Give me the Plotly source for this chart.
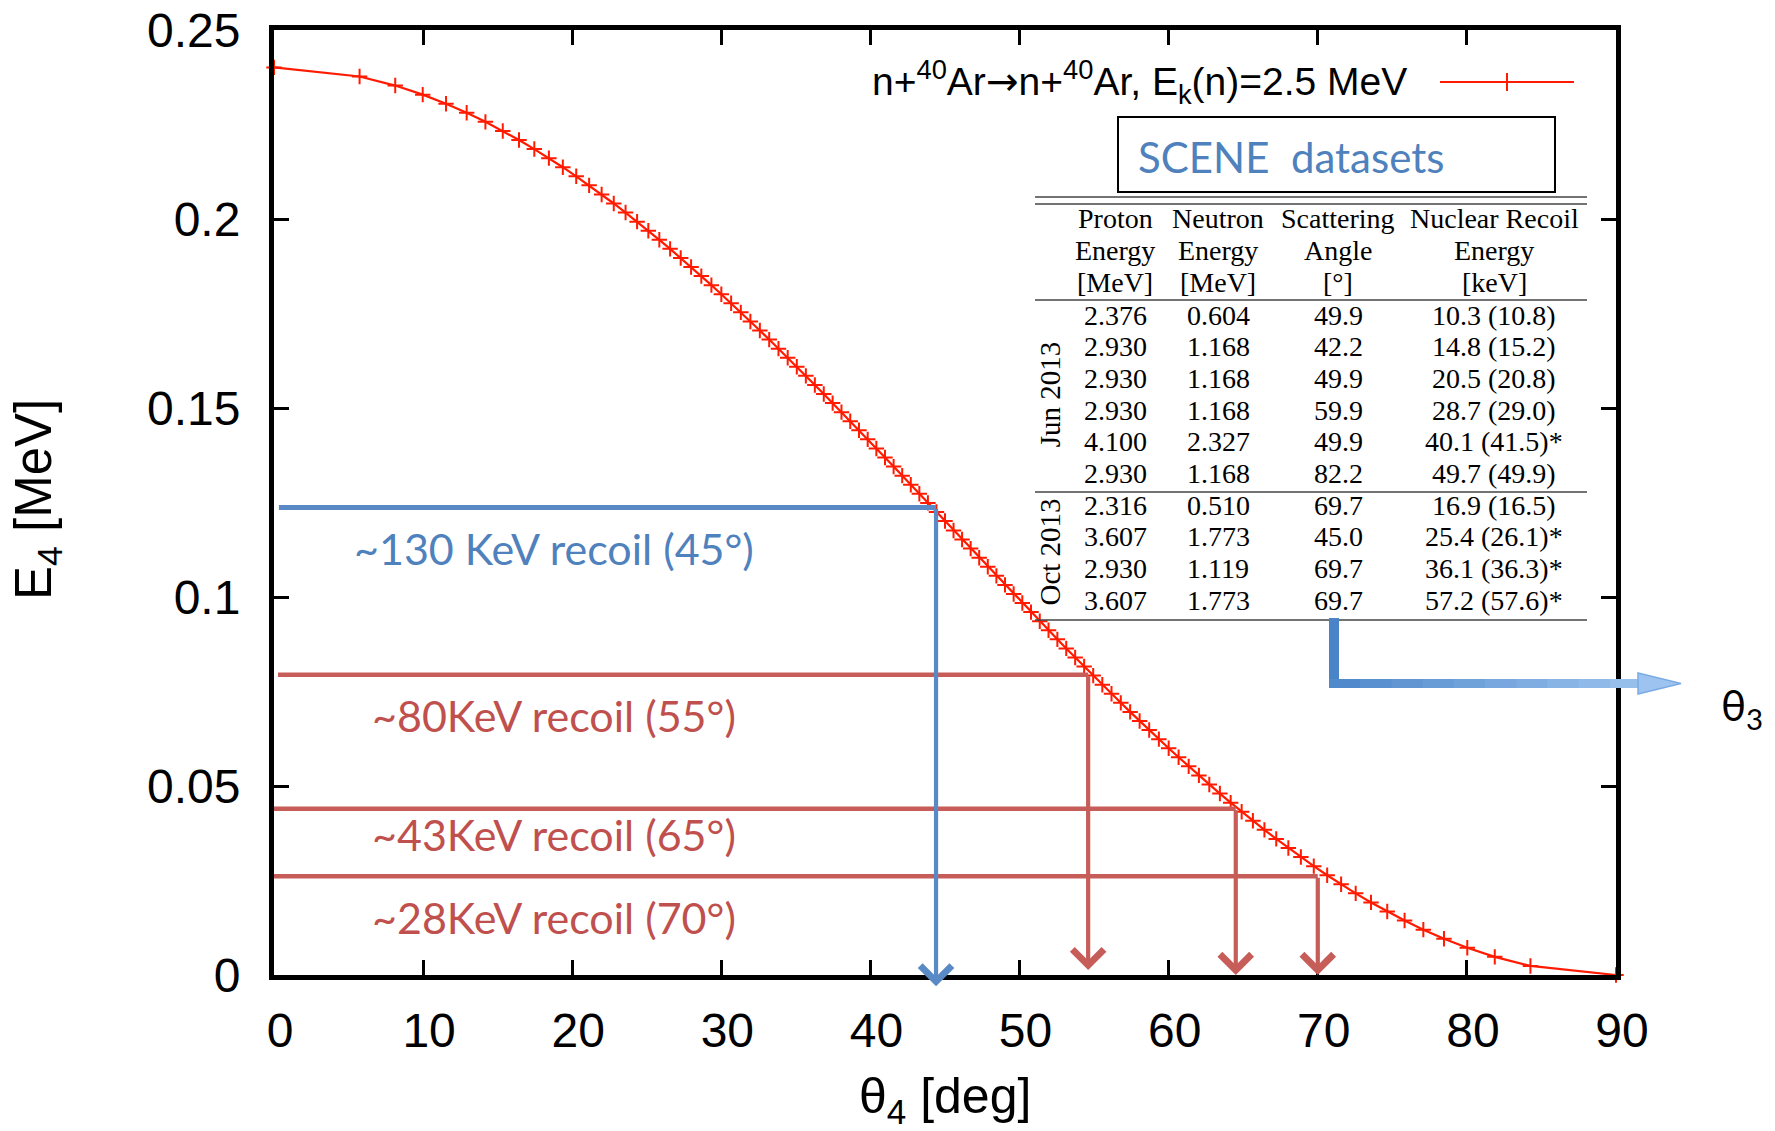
import plotly.graph_objects as go

# ---------------- data ----------------
# recoil angle theta4 [deg] and recoil energy E4 [MeV] (curve points)
theta4 = [0.000, 5.739, 8.130, 9.974, 11.537, 12.921, 14.179, 15.342, 16.430, 17.458,
          18.435, 19.370, 20.268, 21.134, 21.973, 22.786, 23.578, 24.350, 25.104, 25.842,
          26.565, 27.275, 27.972, 28.658, 29.334, 30.000, 30.657, 31.306, 31.948, 32.583,
          33.211, 33.833, 34.450, 35.062, 35.669, 36.271, 36.870, 37.465, 38.057, 38.645,
          39.232, 39.815, 40.397, 40.976, 41.554, 42.130, 42.706, 43.280, 43.854, 44.427,
          45.000, 45.573, 46.146, 46.720, 47.294, 47.870, 48.446, 49.024, 49.603, 50.185,
          50.768, 51.355, 51.943, 52.535, 53.130, 53.729, 54.331, 54.938, 55.550, 56.167,
          56.789, 57.417, 58.052, 58.694, 59.343, 60.000, 60.666, 61.342, 62.028, 62.725,
          63.435, 64.158, 64.896, 65.650, 66.422, 67.214, 68.027, 68.866, 69.732, 70.630,
          71.565, 72.542, 73.570, 74.658, 75.821, 77.079, 78.463, 80.026, 81.870, 84.261,
          90.000]
e4 = [0.2401, 0.2377, 0.2353, 0.2329, 0.2305, 0.2281, 0.2257, 0.2233, 0.2209, 0.2185,
      0.2161, 0.2137, 0.2113, 0.2089, 0.2065, 0.2041, 0.2017, 0.1993, 0.1969, 0.1945,
      0.1921, 0.1897, 0.1873, 0.1849, 0.1825, 0.1801, 0.1777, 0.1753, 0.1729, 0.1705,
      0.1681, 0.1657, 0.1633, 0.1609, 0.1585, 0.1561, 0.1537, 0.1513, 0.1489, 0.1465,
      0.1441, 0.1417, 0.1393, 0.1369, 0.1345, 0.1321, 0.1297, 0.1273, 0.1249, 0.1225,
      0.1201, 0.1176, 0.1152, 0.1128, 0.1104, 0.1080, 0.1056, 0.1032, 0.1008, 0.0984,
      0.0960, 0.0936, 0.0912, 0.0888, 0.0864, 0.0840, 0.0816, 0.0792, 0.0768, 0.0744,
      0.0720, 0.0696, 0.0672, 0.0648, 0.0624, 0.0600, 0.0576, 0.0552, 0.0528, 0.0504,
      0.0480, 0.0456, 0.0432, 0.0408, 0.0384, 0.0360, 0.0336, 0.0312, 0.0288, 0.0264,
      0.0240, 0.0216, 0.0192, 0.0168, 0.0144, 0.0120, 0.0096, 0.0072, 0.0048, 0.0024,
      0.0000]
curve_name = ("n+<sup>40</sup>Ar<span style=\"font-family:DejaVu Sans\">\u2192</span>"
              "n+<sup>40</sup>Ar, E<sub>k</sub>(n)=2.5 MeV")

# recoil guides (angle, energy) and their labels
guide_labels = ["~130 KeV recoil (45\u00b0)", "~80KeV recoil (55\u00b0)",
                "~43KeV recoil (65\u00b0)", "~28KeV recoil (70\u00b0)"]
guide_theta = [44.4, 54.6, 64.5, 70.0]
guide_energy = [0.1237, 0.0794, 0.0440, 0.0261]

# SCENE table
header_cols = [["Proton", "Energy", "[MeV]"],
               ["Neutron", "Energy", "[MeV]"],
               ["Scattering", "Angle", "[\u00b0]"],
               ["Nuclear Recoil", "Energy", "[keV]"]]
proton_energy = ["2.376", "2.930", "2.930", "2.930", "4.100", "2.930",
                 "2.316", "3.607", "2.930", "3.607"]
neutron_energy = ["0.604", "1.168", "1.168", "1.168", "2.327", "1.168",
                  "0.510", "1.773", "1.119", "1.773"]
scattering_angle = ["49.9", "42.2", "49.9", "59.9", "49.9", "82.2",
                    "69.7", "45.0", "69.7", "69.7"]
recoil_energy = ["10.3 (10.8)", "14.8 (15.2)", "20.5 (20.8)", "28.7 (29.0)",
                 "40.1 (41.5)*", "49.7 (49.9)",
                 "16.9 (16.5)", "25.4 (26.1)*", "36.1 (36.3)*", "57.2 (57.6)*"]
run_groups = ["Jun 2013", "Oct 2013"]
run_sizes = [6, 4]

# ---------------- layout helpers ----------------
W, H = 1775, 1131
PL, PR, PT, PB = 274, 1616, 30, 975      # plot area in pixels


def px(xf):
    return (xf - PL) / (PR - PL)


def py(yf):
    return (PB - yf) / (PB - PT)


BLUE_LINE = "#5A8AC6"
RED_LINE = "#C65D58"
BLUE_TXT = "#4F81BD"
RED_TXT = "#C0504D"
SERIF = "Liberation Serif"
SANS = "Liberation Sans"
CAL = "Lato"

fig = go.Figure()
fig.add_trace(go.Scatter(
    x=theta4, y=e4, mode="lines+markers", name=curve_name,
    line=dict(color="#ff1a00", width=2.2),
    marker=dict(symbol="cross-thin", size=11, line=dict(color="#ff1a00", width=2)),
    cliponaxis=False, showlegend=False))

shapes = []
annotations = []

# recoil guides: horizontal line + downward arrow + label
guide_colors = [BLUE_LINE, RED_LINE, RED_LINE, RED_LINE]
text_colors = [BLUE_TXT, RED_TXT, RED_TXT, RED_TXT]
line_start = [0.33, 0.27, -0.27, -0.27]
tip_y = [-0.0030, 0.0013, 0.0, 0.0]
label_ypx = [548, 715, 834, 917]
for i in range(4):
    shapes.append(dict(type="line", xref="x", yref="y", layer="above",
                       x0=line_start[i], x1=guide_theta[i],
                       y0=guide_energy[i], y1=guide_energy[i],
                       line=dict(color=guide_colors[i], width=5 if i == 0 else 4.5)))
    annotations.append(dict(xref="x", yref="y", axref="x", ayref="y",
                            x=guide_theta[i], y=tip_y[i],
                            ax=guide_theta[i], ay=guide_energy[i],
                            text="", showarrow=True, arrowhead=4, arrowsize=1.45,
                            arrowwidth=4.2, arrowcolor=guide_colors[i], standoff=0))
    annotations.append(dict(xref="paper", yref="paper", x=px(554), y=py(label_ypx[i]),
                            xanchor="center", yanchor="middle", showarrow=False,
                            text=guide_labels[i],
                            font=dict(family=CAL, size=43, color=text_colors[i])))

# legend (gnuplot style: text then sample)
annotations.append(dict(xref="paper", yref="paper", x=px(1409), y=py(82),
                        xanchor="right", yanchor="middle", showarrow=False,
                        text=curve_name, font=dict(family=SANS, size=39, color="black")))
shapes.append(dict(type="line", xref="paper", yref="paper", layer="above",
                   x0=px(1440), x1=px(1574), y0=py(82), y1=py(82),
                   line=dict(color="#ff1a00", width=2)))
shapes.append(dict(type="line", xref="paper", yref="paper", layer="above",
                   x0=px(1507), x1=px(1507), y0=py(73), y1=py(91),
                   line=dict(color="#ff1a00", width=2)))

# SCENE datasets box
shapes.append(dict(type="rect", xref="paper", yref="paper", layer="above",
                   x0=px(1118), x1=px(1555), y0=py(192), y1=py(117),
                   line=dict(color="black", width=2), fillcolor="white"))
annotations.append(dict(xref="paper", yref="paper", x=px(1136), y=py(157),
                        xanchor="left", yanchor="middle", showarrow=False,
                        text="SCENE\u00a0\u00a0datasets",
                        font=dict(family=CAL, size=42, color=BLUE_TXT)))

# table rules
for yy in [197, 204, 300, 492, 620]:
    shapes.append(dict(type="line", xref="paper", yref="paper", layer="above",
                       x0=px(1035), x1=px(1587), y0=py(yy), y1=py(yy),
                       line=dict(color="#444444", width=1.5)))

col_x = [1115, 1218, 1338, 1494]
header_y = [218, 250, 282]
row0, row_step = 315, 31.67
tfont = dict(family=SERIF, size=28, color="black")
for c, lines in enumerate(header_cols):
    for r, t in enumerate(lines):
        annotations.append(dict(xref="paper", yref="paper", x=px(col_x[c]), y=py(header_y[r]),
                                xanchor="center", yanchor="middle", showarrow=False,
                                text=t, font=tfont))
columns = [proton_energy, neutron_energy, scattering_angle, recoil_energy]
for c, col in enumerate(columns):
    for r, t in enumerate(col):
        annotations.append(dict(xref="paper", yref="paper", x=px(col_x[c]),
                                y=py(row0 + r * row_step),
                                xanchor="center", yanchor="middle", showarrow=False,
                                text=t, font=tfont))
start = 0
for g, n in zip(run_groups, run_sizes):
    mid = row0 + (start + (n - 1) / 2) * row_step
    annotations.append(dict(xref="paper", yref="paper", x=px(1050), y=py(mid),
                            xanchor="center", yanchor="middle", showarrow=False,
                            text=g, textangle=-90, font=dict(family=SERIF, size=29, color="black")))
    start += n

# elbow arrow from table to theta3
shapes.append(dict(type="line", xref="paper", yref="paper", layer="above",
                   x0=px(1334), x1=px(1334), y0=py(618), y1=py(688),
                   line=dict(color="#4A84C8", width=10)))
c0 = (0x4E, 0x88, 0xCB)
c1 = (0x9A, 0xC2, 0xEE)
nseg = 10
xa, xb = 1329, 1641
for s in range(nseg):
    f = (s + 0.5) / nseg
    col = "rgb(%d,%d,%d)" % tuple(int(c0[k] + (c1[k] - c0[k]) * f) for k in range(3))
    shapes.append(dict(type="line", xref="paper", yref="paper", layer="above",
                       x0=px(xa + (xb - xa) * s / nseg), x1=px(xa + (xb - xa) * (s + 1) / nseg + 1),
                       y0=py(683.5), y1=py(683.5),
                       line=dict(color=col, width=9)))
shapes.append(dict(type="path", xref="paper", yref="paper", layer="above",
                   path="M %f,%f L %f,%f L %f,%f Z" % (px(1638), py(673), px(1681), py(683.5),
                                                     px(1638), py(694)),
                   fillcolor="#9DC4F0", line=dict(color="#7AABE2", width=1.5)))
annotations.append(dict(xref="paper", yref="paper", x=px(1719), y=py(708),
                        xanchor="left", yanchor="middle", showarrow=False,
                        text="\u03b8<sub>3</sub>", font=dict(family=CAL, size=42, color="black")))

# axis titles
annotations.append(dict(xref="paper", yref="paper", x=px(945), y=py(1099),
                        xanchor="center", yanchor="middle", showarrow=False,
                        text="\u03b8<sub>4</sub> [deg]", font=dict(family=SANS, size=50, color="black")))
annotations.append(dict(xref="paper", yref="paper", x=px(37), y=py(500),
                        xanchor="center", yanchor="middle", showarrow=False, textangle=-90,
                        text="E<sub>4</sub> [MeV]", font=dict(family=SANS, size=51, color="black")))

axis_common = dict(ticks="inside", ticklen=15, tickwidth=3, tickcolor="black",
                   showline=True, linewidth=5, linecolor="black", mirror="ticks",
                   showgrid=False, zeroline=False, ticklabeloverflow="allow",
                   automargin=False,
                   tickfont=dict(family=SANS, size=48, color="black"))
fig.update_layout(
    width=W, height=H,
    margin=dict(l=PL, r=W - PR, t=PT, b=H - PB, pad=0, autoexpand=False),
    paper_bgcolor="white", plot_bgcolor="white",
    font=dict(family=SANS, color="black"),
    xaxis=dict(range=[0, 90], tick0=0, dtick=10, ticklabelstandoff=9, ticklabelshift=6,
               **axis_common),
    yaxis=dict(range=[0, 0.25], tick0=0, dtick=0.05, ticklabelstandoff=19, **axis_common),
    shapes=shapes, annotations=annotations, showlegend=False)

fig.write_html(
    "out.html",
    config={"displayModeBar": False},
    post_script="document.body.style.margin='0';document.documentElement.style.overflow='hidden';")
